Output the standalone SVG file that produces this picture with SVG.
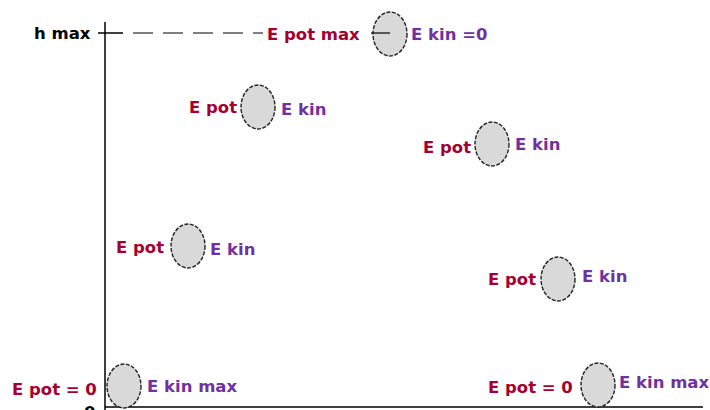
<svg xmlns="http://www.w3.org/2000/svg" width="710" height="410" viewBox="0 0 710 410">
<style>
text{font-family:"DejaVu Sans","Verdana",sans-serif;font-weight:bold;font-size:16.5px}
.pot{fill:#a6002f}
.kin{fill:#7030a0}
.lab{fill:#000}
.ball{fill:#d9d9d9;stroke:#222;stroke-width:1.4;stroke-dasharray:4 1.5}
.ax{stroke:#000;stroke-width:1.5;fill:none}
</style>
<rect width="710" height="410" fill="#fff"/>
<g id="axes">
<line class="ax" x1="105" y1="22" x2="105" y2="410"/>
<line class="ax" x1="105" y1="407" x2="703" y2="407"/>
<line class="ax" x1="98" y1="33" x2="123" y2="33" stroke-width="1.2"/>
<line x1="133" y1="33" x2="263" y2="33" stroke="#000" stroke-width="1.2" stroke-dasharray="20 10"/>
<text class="lab" x="34" y="39">h max</text>
<text class="lab" x="84" y="418">0</text>
</g>
<g id="ball-top">
<ellipse class="ball" cx="390" cy="34" rx="17" ry="22"/>
<line x1="371" y1="33" x2="390" y2="33" stroke="#000" stroke-width="1.2"/>
<text class="pot" x="267" y="40">E pot max</text>
<text class="kin" x="411" y="40">E kin =0</text>
</g>
<g id="ball-up1">
<ellipse class="ball" cx="258" cy="107" rx="17" ry="22"/>
<text class="pot" x="189" y="113">E pot</text>
<text class="kin" x="281" y="115">E kin</text>
</g>
<g id="ball-down1">
<ellipse class="ball" cx="492" cy="144" rx="17" ry="22"/>
<text class="pot" x="423" y="153">E pot</text>
<text class="kin" x="515" y="150">E kin</text>
</g>
<g id="ball-up2">
<ellipse class="ball" cx="188" cy="246" rx="17" ry="22"/>
<text class="pot" x="116" y="253">E pot</text>
<text class="kin" x="210" y="255">E kin</text>
</g>
<g id="ball-down2">
<ellipse class="ball" cx="558" cy="279" rx="17" ry="22"/>
<text class="pot" x="488" y="285">E pot</text>
<text class="kin" x="582" y="282">E kin</text>
</g>
<g id="ball-start">
<ellipse class="ball" cx="124" cy="386" rx="17" ry="22"/>
<text class="pot" x="12" y="395">E pot = 0</text>
<text class="kin" x="147" y="392">E kin max</text>
</g>
<g id="ball-end">
<ellipse class="ball" cx="598" cy="385" rx="17" ry="22"/>
<text class="pot" x="488" y="393">E pot = 0</text>
<text class="kin" x="619" y="388">E kin max</text>
</g>
</svg>
